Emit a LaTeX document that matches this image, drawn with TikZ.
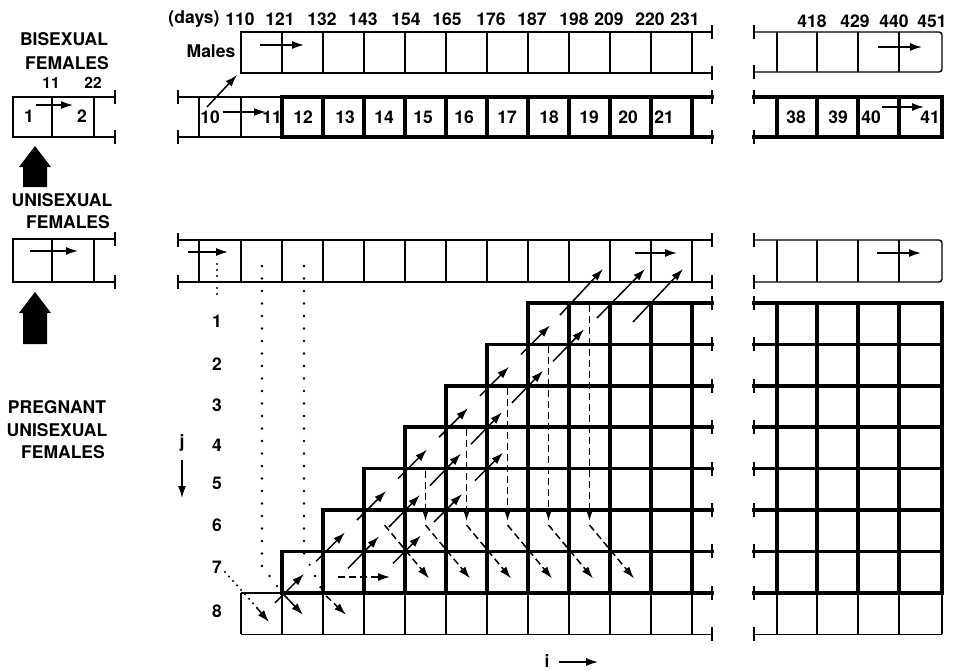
\documentclass[tikz,border=0pt]{standalone}
\usepackage{fontspec}
\setmainfont{TeX Gyre Heros}
\usetikzlibrary{arrows.meta,calc}
\begin{document}
\begin{tikzpicture}[x=1pt,y=-1pt,
  thinl/.style={line width=1.4pt},
  thickl/.style={line width=3.6pt,line cap=rect},
  tickl/.style={line width=1.5pt},
  lab/.style={font=\bfseries\fontsize{17.5}{20}\selectfont,inner sep=0pt},
  slab/.style={font=\bfseries\fontsize{15.5}{18}\selectfont,inner sep=0pt},
  arr/.style={line width=1.5pt,-{Latex[length=12pt,width=8pt]}},
  darr/.style={arr,dash pattern=on 7pt off 4pt},
  dotl/.style={line width=2.6pt,line cap=round,dash pattern=on 0pt off 12.5pt},
  dotf/.style={line width=2.3pt,line cap=round,dash pattern=on 0pt off 6pt},
]
\useasboundingbox (0,0) rectangle (955,670);
% grid coordinates
\foreach \c in {-1,...,11}{
  \foreach \r in {0,...,8}{
    \coordinate (g\c-\r) at ({241+41*\c},{303+41.4*\r});
  }
}
% ---------- left side labels
\node[lab] (bis1) at (64,39) {BISEXUAL};
\node[lab] (bis2) at (67,63) {FEMALES};
\node[slab] (b11) at (51,83) {11};
\node[slab] (b22) at (93,83) {22};
\node[lab] (uni1) at (62,200) {UNISEXUAL};
\node[lab] (uni2) at (68,222) {FEMALES};
\node[lab] (pr1) at (57,407) {PREGNANT};
\node[lab] (pr2) at (57,430) {UNISEXUAL};
\node[lab] (pr3) at (63,452) {FEMALES};
% block arrows
\fill (35,146) -- (51,167) -- (47,167) -- (47,187) -- (23,187) -- (23,167) -- (19,167) -- cycle;
\fill (35,292) -- (51,313) -- (47,313) -- (47,344) -- (23,344) -- (23,313) -- (19,313) -- cycle;
% left boxes
\foreach \t/\b in {97/137,239/282}{
  \draw[thinl] (115,\t) -- (13,\t) -- (13,\b) -- (115,\b);
  \draw[thinl] (52,\t) -- (52,\b);
  \draw[thinl] (94,\t) -- (94,\b);
  \draw[tickl] (115,\t-7) -- (115,\t+7);
  \draw[tickl] (115,\b-7) -- (115,\b+7);
}
\node[lab] (n1) at (29,116) {1};
\node[lab] (n2) at (82,116) {2};
\draw[arr] (36,105) -- (73,105);
\draw[arr] (30,251) -- (78,251);
% ---------- day labels
\node[lab] (days) at (194,19) {(days)};
\foreach \n/\x in {110/240,121/280,132/322,143/363,154/406,165/447,176/491,187/532,198/574,209/609,220/650,231/685}{
  \node[lab] (d\n) at (\x,19) {\n};
}
\foreach \n/\x in {418/812,429/855,440/894,451/932}{
  \node[lab] (d\n) at (\x,21) {\n};
}
% ---------- Males row
\node[lab] (males) at (211,51) {Males};
\draw[thinl] (712,32) -- (241,32) -- (241,73) -- (712,73);
\draw[tickl] (712,25) -- (712,39);
\draw[tickl] (712,66) -- (712,80);
\foreach \k in {1,...,11}{\draw[thinl] ({241+41*\k},32) -- ({241+41*\k},73);}
\draw[arr] (260,45) -- (304,45);
\draw[thinl,rounded corners=3pt] (754,32) -- (942,32) -- (942,72) -- (754,72);
\draw[tickl] (754,25) -- (754,39);
\draw[tickl] (754,65) -- (754,79);
\foreach \x in {777,817,858,899}{\draw[thinl] (\x,32) -- (\x,72);}
\draw[arr] (878,47) -- (922,47);
% ---------- Bisexual row
\draw[thinl] (178,97) -- (282,97);
\draw[thinl] (178,137) -- (282,137);
\draw[tickl] (178,90) -- (178,104);
\draw[tickl] (178,130) -- (178,144);
\draw[thinl] (199,97) -- (199,137);
\draw[thinl] (241,97) -- (241,137);
\draw[thickl] (282,97) -- (712,97);
\draw[thickl] (282,137) -- (712,137);
\draw[tickl] (712,90) -- (712,104);
\draw[tickl] (712,130) -- (712,144);
\foreach \k in {1,...,11}{\draw[thickl] ({241+41*\k},97) -- ({241+41*\k},137);}
\node[lab] (c10) at (210,117) {10};
\node[lab] (c11) at (272,117) {11};
\foreach \n/\x in {12/303,13/345,14/384,15/423,16/464,17/507,18/549,19/589,20/628,21/664}{
  \node[lab] (c\n) at (\x,117) {\n};
}
\draw[arr] (223,112) -- (266,112);
\draw[arr] (207,107) -- (237,75);
\draw[thickl] (754,97) -- (942,97) -- (942,137) -- (754,137);
\draw[tickl] (754,90) -- (754,104);
\draw[tickl] (754,130) -- (754,144);
\foreach \x in {777,817,858,899}{\draw[thickl] (\x,97) -- (\x,137);}
\foreach \n/\x in {38/796,39/838,40/871,41/930}{
  \node[lab] (c\n) at (\x,117) {\n};
}
\draw[arr] (882,107) -- (924,107);
% ---------- Unisexual row
\draw[thinl] (178,240) -- (712,240);
\draw[thinl] (178,282) -- (712,282);
\foreach \x in {178,712}{
  \draw[tickl] (\x,233) -- (\x,247);
  \draw[tickl] (\x,275) -- (\x,289);
}
\draw[thinl] (199,240) -- (199,282);
\foreach \k in {0,...,11}{\draw[thinl] ({241+41*\k},240) -- ({241+41*\k},282);}
\draw[arr] (188,252) -- (228,252);
\draw[arr] (635,253) -- (677,253);
\draw[thinl,rounded corners=3pt] (754,240) -- (942,240) -- (942,282) -- (754,282);
\draw[tickl] (754,233) -- (754,247);
\draw[tickl] (754,275) -- (754,289);
\foreach \x in {777,817,858,899}{\draw[thinl] (\x,240) -- (\x,282);}
\draw[arr] (877,253) -- (921,253);
% ---------- pregnant grid (left)
\foreach \r/\s in {0/7,1/6,2/5,3/4,4/3,5/2,6/1,7/1}{
  \draw[thickl] (g\s-\r) -- ({712},{303+41.4*\r});
  \draw[tickl] ({712},{303+41.4*\r-7}) -- ({712},{303+41.4*\r+7});
}
\foreach \k/\r in {1/6,2/5,3/4,4/3,5/2,6/1,7/0,8/0,9/0,10/0,11/0}{
  \draw[thickl] (g\k-\r) -- (g\k-7);
}
\foreach \k in {0,...,11}{\draw[thinl] (g\k-7) -- (g\k-8);}
\draw[thinl] (g0-7) -- (g1-7);
\draw[thinl] (g0-8) -- ({712},{303+41.4*8});
\draw[tickl] ({712},{303+41.4*8-7}) -- ({712},{303+41.4*8+7});
% ---------- pregnant grid (right)
\foreach \r in {0,...,7}{
  \draw[thickl] (754,{303+41.4*\r}) -- (942,{303+41.4*\r});
  \draw[tickl] (754,{303+41.4*\r-7}) -- (754,{303+41.4*\r+7});
}
\foreach \x in {777,817,858,899,942}{
  \draw[thickl] (\x,303) -- (\x,{303+41.4*7});
  \draw[thinl] (\x,{303+41.4*7}) -- (\x,{303+41.4*8});
}
\draw[thinl] (754,{303+41.4*8}) -- (942,{303+41.4*8});
\draw[tickl] (754,{303+41.4*8-7}) -- (754,{303+41.4*8+7});
% ---------- row labels
\foreach \j/\y in {1/321,2/364,3/405,4/445,5/483,6/525,7/567,8/611}{
  \node[lab] (j\j) at (217,\y) {\j};
}
\node[lab,anchor=base] (jlab) at (182,447) {j};
\coordinate (jt) at (182,460);
\coordinate (jb) at (182,498);
\draw[arr] (jt) -- (jb);
\node[lab,anchor=base] (ilab) at (547,667) {i};
\coordinate (il) at (559,662);
\coordinate (ir) at (598,662);
\draw[arr] (il) -- (ir);
% ---------- dotted paths
\draw[dotf] (217,264) -- (217,298);
\draw[dotf] (225,572) -- (260,611);
\draw[line width=1.5pt,-{Latex[length=12pt,width=8pt]}] (257,608) -- (269,622);
\draw[dotl] (262,266) -- (262,566) -- (g1-7);
\draw[arr] (g1-7) -- ++(21,22);
\draw[dotl] (304,266) -- (304,553) -- (g2-7);
\draw[darr] ($(g2-7)+(3,3)$) -- ++(20,19);
% ---------- chain arrows
\foreach \c/\r in {1/7,2/6,3/5,4/4,5/3,6/2,7/1}{
  \draw[arr] ($(g\c-\r)+(-7,10)$) -- ($(g\c-\r)+(22,-19)$);
}
\draw[arr] ($(g8-0)+(-9,12)$) -- ($(g8-0)+(34,-34)$);
\foreach \c/\r in {3/6,4/5,5/4,6/3,7/2,8/1}{
  \draw[arr] ($(g\c-\r)+(-16,17)$) -- ($(g\c-\r)+(15,-15)$);
}
\draw[arr] ($(g9-0)+(-13,15)$) -- ($(g9-0)+(35,-34)$);
\foreach \c/\r in {4/6,5/5,6/4}{
  \draw[arr] ($(g\c-\r)+(-12,12)$) -- ($(g\c-\r)+(16,-16)$);
}
\draw[arr] ($(g10-0)+(-18,19)$) -- ($(g10-0)+(32,-34)$);
% ---------- dashed arrows
\foreach \c/\r in {4/4,5/3,6/2,7/1,8/0}{
  \draw[darr] ($(g\c-\r)+(20.5,2)$) -- ($(g\c-5)+(20.5,11)$);
}
\foreach \c/\d in {3/4,4/5,5/6,6/7,7/8,8/9}{
  \draw[darr] ($(g\c-5)+(20.5,15)$) -- ($(g\d-6)+(24,27)$);
}
\draw[darr] (338,577) -- (390,577);
\end{tikzpicture}
\end{document}
